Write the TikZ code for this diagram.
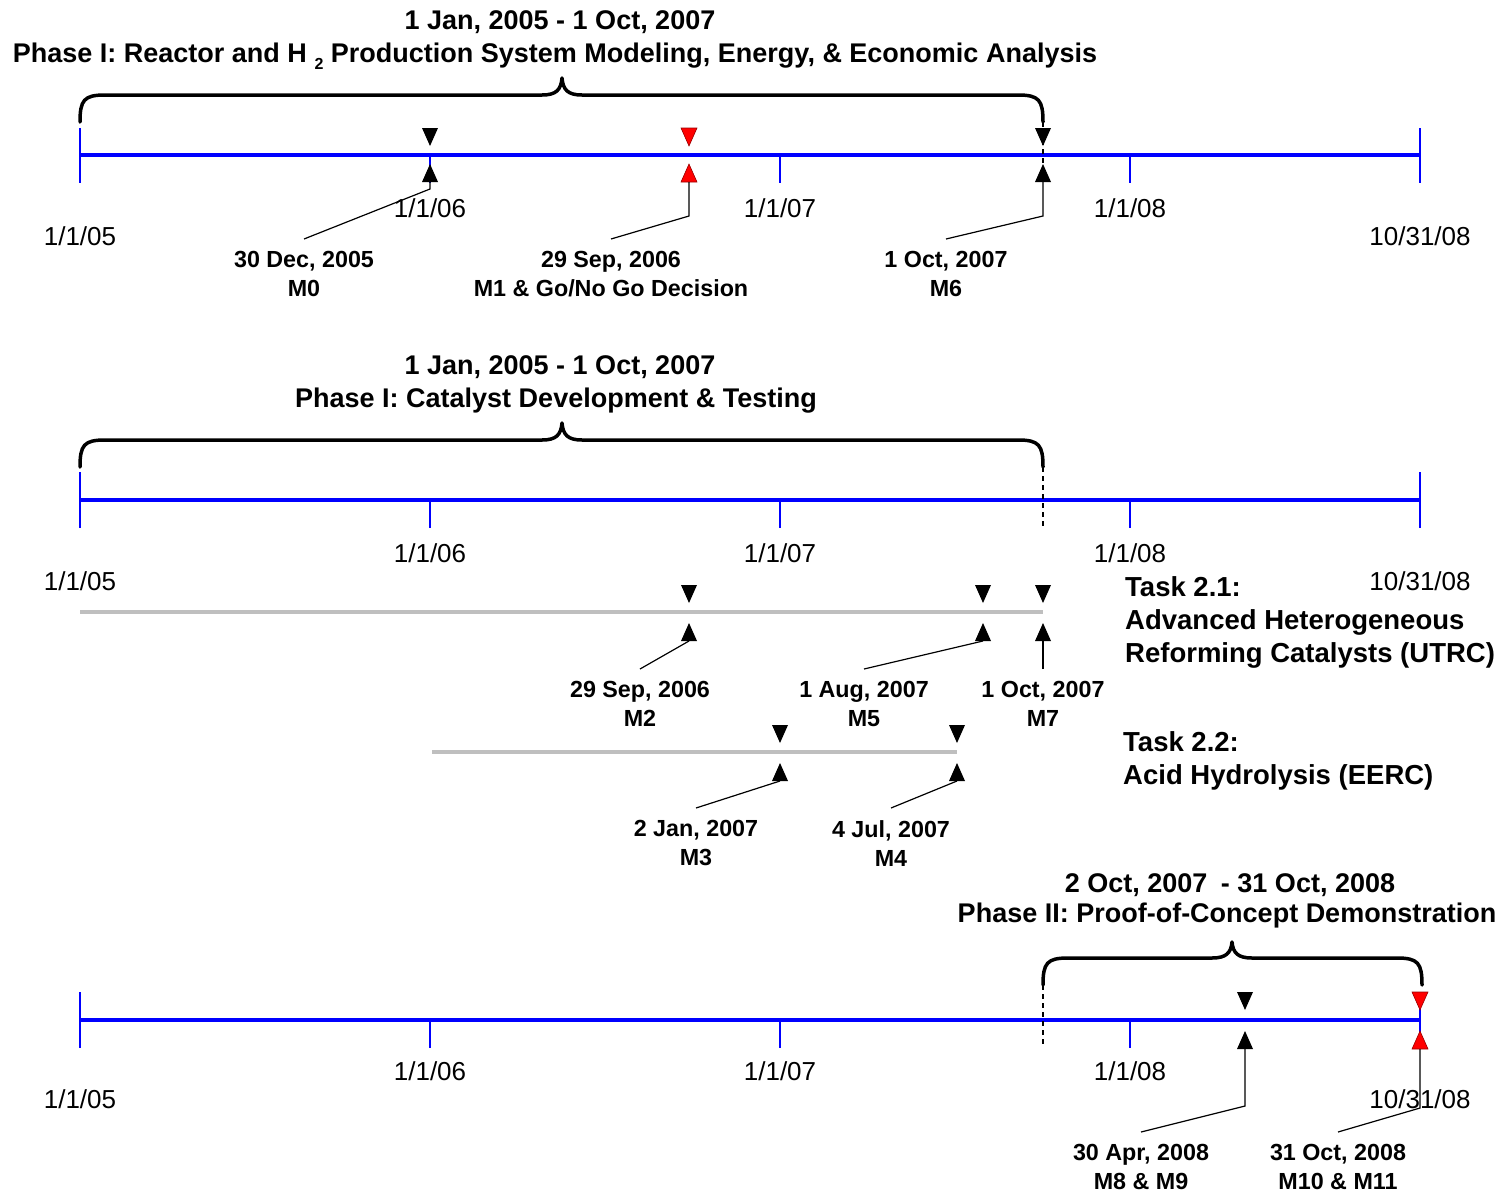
\documentclass[tikz,border=0pt]{standalone}
\usepackage{fontspec}
\setmainfont{Liberation Sans}
\begin{document}
\begin{tikzpicture}[x=1pt,y=-1pt,
  axis/.style={blue, line width=4pt},
  tick/.style={blue, line width=2pt},
  brace/.style={black, line width=3.5pt, line cap=round, line join=round},
  span/.style={black, line width=1.3pt, dash pattern=on 5pt off 4pt},
  task/.style={black!25, line width=4pt},
  leader/.style={black, line width=1.2pt},
  mk/.style={fill=black},
  mkred/.style={fill=red, draw=red!60!black, line width=0.6pt},
  datelbl/.style={font=\fontsize{26}{26}\selectfont, inner sep=0pt, anchor=base},
  title/.style={font=\bfseries\fontsize{27}{27}\selectfont, inner sep=0pt, anchor=base},
  mslbl/.style={font=\bfseries\fontsize{23.3}{28.5}\selectfont, align=center, inner xsep=0pt, inner ysep=12.5pt, anchor=north},
  tasklbl/.style={font=\bfseries\fontsize{27.5}{33}\selectfont, align=left, inner sep=0pt, anchor=north west},
  dn/.pic={\path[#1] (0,0) -- (-8,-18) -- (8,-18) -- cycle; \coordinate (-tip) at (0,0);},
  up/.pic={\path[#1] (0,0) -- (-8,18) -- (8,18) -- cycle; \coordinate (-base) at (0,18);},
]
\useasboundingbox (0,0) rectangle (1505,1195);

% ---------------- Phase I: modeling and analysis ----------------
\node[title] (h1a) at (560,29) {1 Jan, 2005 - 1 Oct, 2007};
\node[title] (h1b) at (555,62) {Phase I: Reactor and H \raisebox{-7pt}{\fontsize{16}{16}\selectfont 2} Production System Modeling, Energy, \& Economic Analysis};
\draw[brace] (80,122) .. controls (80,100) and (84,95) .. (105,95) -- (542,95)
  .. controls (556,95) and (561,90) .. (562,78) .. controls (563,90) and (568,95) .. (582,95)
  -- (1018,95) .. controls (1039,95) and (1043,100) .. (1043,122);
\draw[axis] (80,155) -- (1420,155);
\draw[tick] (80,128) -- (80,183);
\draw[tick] (1420,128) -- (1420,183);
\foreach \x in {430,780,1130} \draw[tick] (\x,155) -- (\x,183);
\draw[span] (1043,122) -- (1043,183);
\node[datelbl] (t1a) at (80,245) {1/1/05};
\node[datelbl] (t1b) at (430,217) {1/1/06};
\node[datelbl] (t1c) at (780,217) {1/1/07};
\node[datelbl] (t1d) at (1130,217) {1/1/08};
\node[datelbl] (t1e) at (1420,245) {10/31/08};

\pic (m0d) at (430,146) {dn=mk};
\pic (m0u) at (430,164) {up=mk};
\pic (m1d) at (689,146) {dn=mkred};
\pic (m1u) at (689,164) {up=mkred};
\pic (m6d) at (1043,146) {dn=mk};
\pic (m6u) at (1043,164) {up=mk};

\node[mslbl] (m0l) at (304,239) {30 Dec, 2005\\M0};
\node[mslbl] (m1l) at (611,239) {29 Sep, 2006\\M1 \& Go/No Go Decision};
\node[mslbl] (m6l) at (946,239) {1 Oct, 2007\\M6};
\draw[leader] (m0l.north) -- ([yshift=-7pt]m0u-base) -- (m0u-base);
\draw[leader] (m1l.north) -- ([yshift=-34pt]m1u-base) -- (m1u-base);
\draw[leader] (m6l.north) -- ([yshift=-34pt]m6u-base) -- (m6u-base);

% ---------------- Phase I: catalysts ----------------
\node[title] (h2a) at (560,374) {1 Jan, 2005 - 1 Oct, 2007};
\node[title] (h2b) at (556,407) {Phase I: Catalyst Development \& Testing};
\draw[brace] (80,467) .. controls (80,445) and (84,440) .. (105,440) -- (542,440)
  .. controls (556,440) and (561,435) .. (562,423) .. controls (563,435) and (568,440) .. (582,440)
  -- (1018,440) .. controls (1039,440) and (1043,445) .. (1043,467);
\draw[axis] (80,500) -- (1420,500);
\draw[tick] (80,472) -- (80,528);
\draw[tick] (1420,472) -- (1420,528);
\foreach \x in {430,780,1130} \draw[tick] (\x,500) -- (\x,528);
\draw[span] (1043,467) -- (1043,528);
\node[datelbl] (t2a) at (80,590) {1/1/05};
\node[datelbl] (t2b) at (430,562) {1/1/06};
\node[datelbl] (t2c) at (780,562) {1/1/07};
\node[datelbl] (t2d) at (1130,562) {1/1/08};
\node[datelbl] (t2e) at (1420,590) {10/31/08};

% Task 2.1
\draw[task] (80,612) -- (1043,612);
\pic (m2d) at (689,603) {dn=mk};
\pic (m2u) at (689,623) {up=mk};
\pic (m5d) at (983,603) {dn=mk};
\pic (m5u) at (983,623) {up=mk};
\pic (m7d) at (1043,603) {dn=mk};
\pic (m7u) at (1043,623) {up=mk};
\node[mslbl] (m2l) at (640,669) {29 Sep, 2006\\M2};
\node[mslbl] (m5l) at (864,669) {1 Aug, 2007\\M5};
\node[mslbl] (m7l) at (1043,669) {1 Oct, 2007\\M7};
\draw[leader] (m2l.north) -- (m2u-base);
\draw[leader] (m5l.north) -- (m5u-base);
\draw[leader] (m7l.north) -- (m7u-base);
\node[tasklbl] (k21) at (1125,576) {Task 2.1:\\Advanced Heterogeneous\\Reforming Catalysts (UTRC)};

% Task 2.2
\draw[task] (432,752) -- (957,752);
\pic (m3d) at (780,743) {dn=mk};
\pic (m3u) at (780,763) {up=mk};
\pic (m4d) at (957,743) {dn=mk};
\pic (m4u) at (957,763) {up=mk};
\node[mslbl] (m3l) at (696,808) {2 Jan, 2007\\M3};
\node[mslbl] (m4l) at (891,808) {4 Jul, 2007\\M4};
\draw[leader] (m3l.north) -- (m3u-base);
\draw[leader] (m4l.north) -- (m4u-base);
\node[tasklbl] (k22) at (1123,731) {Task 2.2:\\Acid Hydrolysis (EERC)};

% ---------------- Phase II ----------------
\node[title] (h3a) at (1230,892) {2 Oct, 2007\hspace{6pt} - 31 Oct, 2008};
\node[title] (h3b) at (1227,922) {Phase II: Proof-of-Concept Demonstration};
\draw[brace] (1043,985) .. controls (1043,963) and (1047,958) .. (1068,958) -- (1212,958)
  .. controls (1226,958) and (1231,953) .. (1232,942) .. controls (1233,953) and (1238,958) .. (1252,958)
  -- (1397,958) .. controls (1418,958) and (1422,963) .. (1422,985);
\draw[axis] (80,1020) -- (1420,1020);
\draw[tick] (80,992) -- (80,1048);
\draw[tick] (1420,992) -- (1420,1048);
\foreach \x in {430,780,1130} \draw[tick] (\x,1020) -- (\x,1048);
\draw[span] (1043,985) -- (1043,1046);
\node[datelbl] (t3a) at (80,1108) {1/1/05};
\node[datelbl] (t3b) at (430,1080) {1/1/06};
\node[datelbl] (t3c) at (780,1080) {1/1/07};
\node[datelbl] (t3d) at (1130,1080) {1/1/08};
\node[datelbl] (t3e) at (1420,1108) {10/31/08};

\pic (m8d) at (1245,1010) {dn=mk};
\pic (m8u) at (1245,1031) {up=mk};
\pic (m10d) at (1420,1010) {dn=mkred};
\pic (m10u) at (1420,1031) {up=mkred};
\node[mslbl] (m8l) at (1141,1132) {30 Apr, 2008\\M8 \& M9};
\node[mslbl] (m10l) at (1338,1132) {31 Oct, 2008\\M10 \& M11};
\draw[leader] (m8l.north) -- ([yshift=-57pt]m8u-base) -- (m8u-base);
\draw[leader] (m10l.north) -- ([yshift=-59pt]m10u-base) -- (m10u-base);
\end{tikzpicture}
\end{document}
